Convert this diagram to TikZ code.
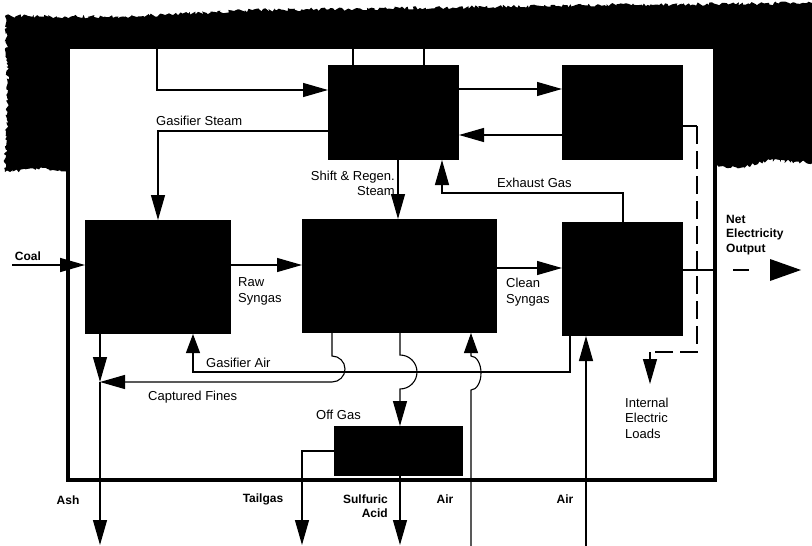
\documentclass[tikz,border=0pt]{standalone}
\usepackage{fontspec}
\setmainfont{Liberation Sans}
\usetikzlibrary{arrows.meta,decorations.pathmorphing}
\tikzset{
  blk/.style={fill=black, inner sep=0pt, outer sep=0pt},
  conn/.style={line width=1.1pt},
  arr/.style={conn, -{Triangle[length=25pt,width=14pt]}},
  lbl/.style={font=\fontsize{13}{15.5}\selectfont, inner sep=0pt, align=left},
  blbl/.style={font=\fontsize{12}{14.5}\selectfont\bfseries, inner sep=0pt},
  frm/.style={line width=3.5pt},
  dsh/.style={conn, dash pattern=on 18pt off 7pt},
  rag/.style={decoration={random steps,segment length=2pt,amplitude=1.8pt}}
}
\begin{document}
\begin{tikzpicture}[x=1pt,y=-1pt]
\useasboundingbox (0,0) rectangle (812,546);
\pgfmathsetseed{12}
% scanned dark band
\fill[black] (5,16) decorate[rag]{-- (120,17) -- (260,10) -- (420,8) -- (600,5) -- (812,3)} -- (812,163)
  decorate[rag]{-- (770,160) -- (740,168) -- (716,166)} -- (716,47) -- (68,47) -- (68,172)
  decorate[rag]{-- (40,168) -- (5,172) -- (8,90) -- (5,16)} -- cycle;
% frame
\draw[frm] (68,47) rectangle (715,480);
% boxes
\node[blk, minimum width=131pt, minimum height=95pt] (A) at (393.5,112.5) {};
\node[blk, minimum width=121pt, minimum height=95pt] (B) at (622.5,112.5) {};
\node[blk, minimum width=146pt, minimum height=114pt] (C) at (158,277) {};
\node[blk, minimum width=195pt, minimum height=114pt] (D) at (399.5,276) {};
\node[blk, minimum width=121pt, minimum height=114pt] (E) at (622.5,279) {};
\node[blk, minimum width=129pt, minimum height=50pt] (F) at (398.5,451) {};
% coal and main flow
\coordinate (coalS) at (12,265);
\draw[arr, line width=1.6pt] (coalS) -- (coalS -| C.west);
\draw[arr] (C.east |- 0,265) -- (D.west |- 0,265);
\draw[arr] (D.east |- 0,268) -- (E.west |- 0,268);
\coordinate (neo) at (715,270);
\draw[conn] (E.east |- neo) -- (neo);
\coordinate (d1) at (733,270); \coordinate (d2) at (749,270);
\draw[line width=1.6pt] (d1) -- (d2);
\coordinate (o1) at (770,259); \coordinate (o2) at (801,270); \coordinate (o3) at (770,281);
\fill (o1) -- (o2) -- (o3) -- cycle;
% top loops
\coordinate (tl) at (157,47);
\draw[arr] (tl) |- (A.west |- 0,90);
\coordinate (u1) at (353,47); \coordinate (u2) at (424,47);
\draw[conn] (u1) -- (u1 |- A.north);
\draw[conn] (u2) -- (u2 |- A.north);
\draw[arr] (A.east |- 0,89) -- (B.west |- 0,89);
\draw[arr] (B.west |- 0,135) -- (A.east |- 0,135);
\draw[arr] (A.west |- 0,131) -| (C.north);
\draw[arr] (A.south -| 398,0) -- (D.north -| 398,0);
\coordinate (ex) at (442,193);
\draw[arr] (E.north -| 623,0) |- (ex) -- (ex |- A.south);
% electric loads (dashed)
\coordinate (dd) at (697,126); \coordinate (dc) at (650,352); \coordinate (il) at (650,384);
\draw[conn] (B.east |- dd) -- (dd);
\draw[dsh] (dd) |- (dc);
\draw[arr] (dc) -- (il);
% gasifier air
\coordinate (ga) at (193,372);
\draw[arr, -{Triangle[length=19pt,width=14pt]}] (E.south -| 570,0) |- (ga) -- (ga |- C.south);
% captured fines
\coordinate (cf) at (100,382);
\draw[arr] (D.south -| 332,0) -- (332,356) arc[start angle=-90,end angle=90,radius=13] -- (cf);
\draw[arr] (C.south -| cf) -- (cf);
\coordinate (ash) at (100,545);
\draw[arr] (cf) -- (ash);
% off gas
\draw[arr] (D.south -| 400,0) -- (400,355) arc[start angle=-90,end angle=90,radius=17] -- (F.north -| 400,0);
% air lines
\coordinate (air1) at (471,546);
\draw[arr, -{Triangle[length=20pt,width=14pt]}] (air1) -- (471,390) arc[start angle=90,end angle=-90,x radius=10,y radius=17] -- (D.south -| air1);
\coordinate (air2) at (586,546);
\draw[arr] (air2) -- (E.south -| air2);
% tailgas and acid
\coordinate (tg) at (302,545);
\draw[arr] (F.west) -| (tg);
\coordinate (sa) at (400,545);
\draw[arr] (F.south -| sa) -- (sa);
% labels
\node[blbl] (lcoal) at (28,256) {Coal};
\node[lbl, anchor=west] (lraw) at (238,291.5) {Raw\\Syngas};
\node[lbl, anchor=west] (lclean) at (506,292) {Clean\\Syngas};
\node[lbl, anchor=west] (lgs) at (156,121) {Gasifier Steam};
\node[lbl, anchor=east, align=right] (lshift) at (395,183.5) {Shift \& Regen.\\Steam};
\node[lbl, anchor=west] (lexh) at (497,183) {Exhaust Gas};
\node[lbl, anchor=west] (lga) at (206,363) {Gasifier Air};
\node[lbl, anchor=west] (lcf) at (148,397) {Captured Fines};
\node[lbl, anchor=west] (log) at (316,415) {Off Gas};
\node[lbl, anchor=west] (lload) at (625,418) {Internal\\Electric\\Loads};
\node[blbl, anchor=west, align=left] (lnet) at (726,235) {Net\\Electricity\\Output};
\node[blbl] (lash) at (68,500) {Ash};
\node[blbl] (ltail) at (263,499) {Tailgas};
\node[blbl, anchor=east, align=right] (lsulf) at (388,506) {Sulfuric\\Acid};
\node[blbl] (lair1) at (445,499) {Air};
\node[blbl] (lair2) at (565,499) {Air};
\end{tikzpicture}
\end{document}
